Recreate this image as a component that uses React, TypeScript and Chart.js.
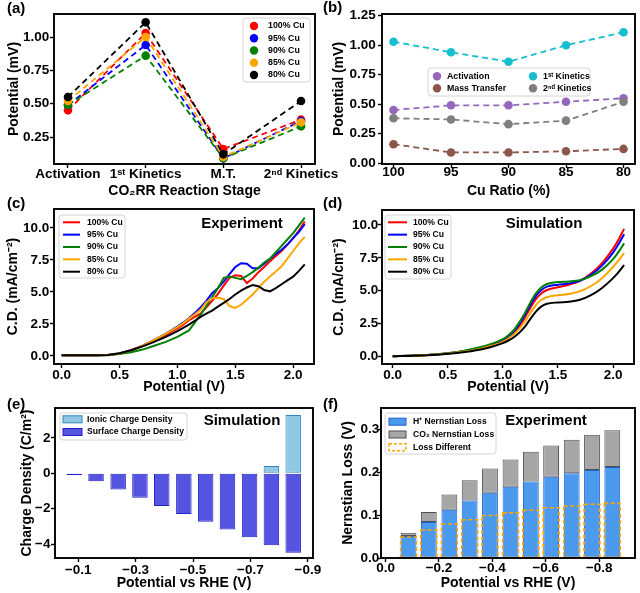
import React, { useEffect, useRef } from 'react';
import { Chart, registerables } from 'chart.js';
Chart.register(...registerables);

const W = 640;
const H = 593;
const FONT = "'Liberation Sans', Arial, Helvetica, sans-serif";
Chart.defaults.font.family = FONT;
Chart.defaults.font.weight = 'bold' as any;
Chart.defaults.color = '#000';

// ---------- (a) / (b) data ----------
const STAGES = ['Activation', '1ˢᵗ Kinetics', 'M.T.', '2ⁿᵈ Kinetics'];
const CU_LABELS = ['100% Cu', '95% Cu', '90% Cu', '85% Cu', '80% Cu'];
const CU_RATIO = [100, 95, 90, 85, 80];
const CU_COLORS = ['#ff0000', '#0000ff', '#008000', '#ffa500', '#000000'];
const ACTIVATION = [0.45, 0.49, 0.49, 0.52, 0.55];
const KINETICS_1 = [1.03, 0.94, 0.86, 1.0, 1.11];
const MASS_TRANSFER = [0.16, 0.09, 0.09, 0.1, 0.12];
const KINETICS_2 = [0.38, 0.37, 0.33, 0.36, 0.52];
const B_LABELS = ['Activation', 'Mass Transfer', '1ˢᵗ Kinetics', '2ⁿᵈ Kinetics'];
const B_COLORS = ['#9467bd', '#8c564b', '#17becf', '#7f7f7f'];
const A_Y_TICKS = [0.25, 0.5, 0.75, 1.0];
const B_Y_TICKS = [0, 0.25, 0.5, 0.75, 1.0, 1.25];

// ---------- (c) experiment ----------
const EXP_V = [0, 0.1, 0.2, 0.3, 0.4, 0.5, 0.6, 0.7, 0.8, 0.9, 1.0, 1.05, 1.1, 1.15, 1.2, 1.25, 1.3, 1.35, 1.4, 1.45, 1.5, 1.55, 1.6, 1.65, 1.7, 1.75, 1.8, 1.85, 1.9, 1.95, 2.0, 2.05, 2.1];
const EXP_100 = [0.05, 0.05, 0.05, 0.05, 0.07, 0.2, 0.45, 0.8, 1.2, 1.65, 2.15, 2.45, 2.8, 3.05, 3.3, 3.8, 4.3, 4.85, 5.5, 6.1, 6.3, 6.25, 5.7, 6.05, 6.55, 6.95, 7.4, 7.8, 8.2, 8.7, 9.2, 9.8, 10.5];
const EXP_95 = [0.05, 0.05, 0.05, 0.05, 0.07, 0.2, 0.45, 0.8, 1.25, 1.75, 2.3, 2.6, 2.95, 3.35, 3.8, 4.3, 4.9, 5.3, 5.8, 6.4, 6.95, 7.25, 7.2, 6.85, 6.85, 7.2, 7.6, 7.95, 8.3, 8.7, 9.2, 9.7, 10.3];
const EXP_90 = [0.05, 0.05, 0.05, 0.05, 0.06, 0.15, 0.3, 0.5, 0.8, 1.1, 1.5, 1.75, 2.0, 2.6, 3.2, 3.9, 4.6, 5.3, 6.1, 6.2, 6.1, 6.0, 6.25, 6.55, 6.9, 7.3, 7.6, 8.1, 8.6, 9.1, 9.6, 10.2, 10.8];
const EXP_85 = [0.05, 0.05, 0.05, 0.05, 0.07, 0.2, 0.45, 0.8, 1.25, 1.75, 2.25, 2.55, 2.9, 3.25, 3.6, 4.2, 4.5, 4.55, 4.45, 3.9, 3.75, 4.0, 4.4, 4.8, 5.3, 5.8, 6.2, 6.6, 7.0, 7.6, 8.2, 8.8, 9.3];
const EXP_80 = [0.05, 0.05, 0.05, 0.05, 0.07, 0.22, 0.45, 0.75, 1.1, 1.5, 1.95, 2.2, 2.45, 2.75, 3.05, 3.3, 3.55, 3.85, 4.15, 4.45, 4.8, 5.1, 5.35, 5.55, 5.45, 5.15, 5.05, 5.3, 5.6, 5.9, 6.2, 6.65, 7.15];

// ---------- (d) simulation ----------
const SIM_V = [0, 0.2, 0.4, 0.6, 0.8, 0.9, 1.0, 1.05, 1.1, 1.15, 1.2, 1.25, 1.3, 1.35, 1.4, 1.5, 1.6, 1.7, 1.8, 1.9, 2.0, 2.05, 2.1];
const SIM_100 = [0, 0.05, 0.14, 0.32, 0.62, 0.85, 1.2, 1.45, 1.8, 2.3, 2.95, 3.7, 4.35, 4.8, 5.05, 5.25, 5.45, 5.75, 6.3, 7.1, 8.2, 8.9, 9.7];
const SIM_95 = [0, 0.05, 0.15, 0.33, 0.65, 0.9, 1.25, 1.5, 1.9, 2.45, 3.15, 3.9, 4.6, 5.05, 5.3, 5.45, 5.55, 5.75, 6.2, 6.9, 7.9, 8.55, 9.3];
const SIM_90 = [0, 0.05, 0.15, 0.35, 0.7, 0.95, 1.3, 1.6, 2.0, 2.6, 3.3, 4.1, 4.8, 5.25, 5.5, 5.65, 5.7, 5.8, 6.1, 6.6, 7.4, 7.95, 8.6];
const SIM_85 = [0, 0.04, 0.13, 0.3, 0.58, 0.8, 1.1, 1.35, 1.65, 2.1, 2.65, 3.3, 3.9, 4.3, 4.5, 4.65, 4.75, 4.95, 5.35, 5.95, 6.8, 7.3, 7.85];
const SIM_80 = [0, 0.04, 0.12, 0.27, 0.52, 0.72, 1.0, 1.2, 1.45, 1.8, 2.25, 2.85, 3.4, 3.8, 4.0, 4.1, 4.15, 4.3, 4.65, 5.2, 5.95, 6.4, 6.95];
const CD_TICKS = [0, 2.5, 5, 7.5, 10];
const V_TICKS = [0, 0.5, 1.0, 1.5, 2.0];

// ---------- (e) charge density ----------
const E_POT = [-0.086, -0.162, -0.239, -0.315, -0.391, -0.468, -0.544, -0.62, -0.697, -0.773, -0.849];
const IONIC = [0, 0, 0, 0, 0, 0, 0, 0, 0.05, 0.41, 3.3];
const SURFACE = [-0.1, -0.45, -0.92, -1.38, -1.85, -2.3, -2.74, -3.18, -3.62, -4.07, -4.5];
const E_X_TICKS = [-0.1, -0.3, -0.5, -0.7, -0.9];
const E_Y_TICKS = [-4, -2, 0, 2];

// ---------- (f) Nernstian loss ----------
const H_LOSS = [0.051, 0.084, 0.112, 0.134, 0.152, 0.166, 0.178, 0.189, 0.197, 0.205, 0.212];
const CO2_LOSS = [0.008, 0.023, 0.036, 0.047, 0.056, 0.063, 0.069, 0.073, 0.078, 0.082, 0.085];
const LOSS_DIFF = [0.049, 0.065, 0.079, 0.089, 0.099, 0.105, 0.111, 0.117, 0.121, 0.125, 0.127];
const F_X_TICKS = [0, -0.2, -0.4, -0.6, -0.8];
const F_Y_TICKS = [0, 0.1, 0.2, 0.3];

// ---------- helpers ----------
const minus = (v: number, d: number) => (v < -1e-9 ? '\u2212' : '') + Math.abs(v).toFixed(d);

type AxisOpt = {
  min: number; max: number; ticks: number[]; fmt: (v: number) => string; reverse?: boolean;
  size: number; title: string; titlePad: number; tickPad: number; horizontal: boolean; stacked?: boolean;
};
function axis(o: AxisOpt): any {
  const a: any = {
    type: 'linear', min: o.min, max: o.max, reverse: !!o.reverse, offset: false,
    afterBuildTicks: (s: any) => { s.ticks = o.ticks.map((v) => ({ value: v })); },
    afterFit: (s: any) => { if (o.horizontal) s.height = o.size; else s.width = o.size; },
    grid: { display: true, offset: false, drawOnChartArea: false, drawTicks: true, tickLength: 4, tickWidth: 1.4, tickColor: '#000', color: '#000' },
    border: { display: false },
    ticks: { autoSkip: false, maxRotation: 0, minRotation: 0, includeBounds: false, padding: o.tickPad, color: '#000', font: { size: 13.5, weight: 'bold' }, callback: (v: any) => o.fmt(Number(v)) },
    title: { display: true, text: o.title, color: '#000', font: { size: 14, weight: 'bold' }, padding: o.horizontal ? { top: 0, bottom: o.titlePad } : { top: o.titlePad, bottom: 0 } },
  };
  if (o.stacked) a.stacked = true;
  return a;
}
type Box = { l: number; t: number; r: number; b: number };
const pad = (bx: Box, yW: number, xH: number) => ({ left: bx.l - yW, top: bx.t, right: W - bx.r, bottom: H - bx.b - xH });

const framePlugin = {
  id: 'frame',
  afterDatasetsDraw(chart: any) {
    const { ctx, chartArea: a } = chart;
    ctx.save();
    ctx.strokeStyle = '#000';
    ctx.lineWidth = 1.9;
    ctx.setLineDash([]);
    ctx.strokeRect(a.left, a.top, a.right - a.left, a.bottom - a.top);
    ctx.restore();
  },
};

const dashBarsPlugin = {
  id: 'dashBars',
  afterDatasetsDraw(chart: any, _a: any, o: any) {
    if (!o || o.datasetIndex === undefined) return;
    const meta = chart.getDatasetMeta(o.datasetIndex);
    const ctx = chart.ctx;
    ctx.save();
    ctx.setLineDash([4, 2.5]);
    ctx.strokeStyle = o.color;
    ctx.lineWidth = 1.6;
    meta.data.forEach((el: any) => {
      const p = el.getProps(['x', 'y', 'base', 'width'], true);
      ctx.strokeRect(p.x - p.width / 2, p.y, p.width, p.base - p.y);
    });
    ctx.restore();
  },
};

const boxLegendPlugin = {
  id: 'boxLegend',
  afterDraw(chart: any, _a: any, o: any) {
    if (!o || !o.items) return;
    const ctx = chart.ctx;
    ctx.save();
    ctx.beginPath();
    if (ctx.roundRect) ctx.roundRect(o.x, o.y, o.w, o.h, 3); else ctx.rect(o.x, o.y, o.w, o.h);
    ctx.fillStyle = 'rgba(255,255,255,0.85)';
    ctx.fill();
    ctx.strokeStyle = '#d4d4d4';
    ctx.lineWidth = 1;
    ctx.stroke();
    ctx.font = `bold ${o.fontSize}px ${FONT}`;
    ctx.textBaseline = 'middle';
    ctx.textAlign = 'left';
    const n = o.items.length;
    for (let i = 0; i < n; i++) {
      const it = o.items[i];
      const col = Math.floor(i / o.rows);
      const row = i % o.rows;
      const cy = o.y0 + row * o.rowH;
      const mx = o.mx + col * (o.colW || 0);
      const tx = o.tx + col * (o.colW || 0);
      ctx.setLineDash([]);
      if (it.kind === 'dot') {
        ctx.beginPath();
        ctx.arc(mx, cy, o.r, 0, Math.PI * 2);
        ctx.fillStyle = it.color;
        ctx.fill();
      } else if (it.kind === 'line') {
        ctx.beginPath();
        ctx.moveTo(mx, cy);
        ctx.lineTo(mx + o.mw, cy);
        ctx.strokeStyle = it.color;
        ctx.lineWidth = 2;
        ctx.stroke();
      } else if (it.kind === 'patch') {
        ctx.fillStyle = it.color;
        ctx.fillRect(mx, cy - o.mh / 2, o.mw, o.mh);
        ctx.strokeStyle = it.border;
        ctx.lineWidth = 1;
        ctx.strokeRect(mx, cy - o.mh / 2, o.mw, o.mh);
      } else if (it.kind === 'dash') {
        ctx.setLineDash([3, 2]);
        ctx.strokeStyle = it.color;
        ctx.lineWidth = 1.5;
        ctx.strokeRect(mx, cy - o.mh / 2, o.mw, o.mh);
        ctx.setLineDash([]);
      }
      ctx.fillStyle = '#000';
      ctx.fillText(it.label, tx, cy);
    }
    ctx.restore();
  },
};

const annotPlugin = {
  id: 'annot',
  afterDraw(chart: any, _a: any, o: any) {
    if (!o || !o.items) return;
    const ctx = chart.ctx;
    ctx.save();
    ctx.fillStyle = '#000';
    ctx.textBaseline = 'middle';
    for (let i = 0; i < o.items.length; i++) {
      const it = o.items[i];
      ctx.font = `bold ${it.size}px ${FONT}`;
      ctx.textAlign = it.align;
      ctx.fillText(it.text, it.x, it.y);
    }
    ctx.restore();
  },
};

const PLUGINS = [dashBarsPlugin, framePlugin, boxLegendPlugin, annotPlugin];

function opts(padding: any, x: any, y: any, plugins: any) {
  return {
    responsive: false, maintainAspectRatio: false, animation: false, devicePixelRatio: 1, events: [],
    layout: { padding },
    plugins: { legend: { display: false }, tooltip: { enabled: false }, ...plugins },
    scales: { x, y },
  };
}

// ---------- panel configs ----------
function configA(): any {
  const box = { l: 54, t: 14, r: 315, b: 164 };
  const stageVals = [ACTIVATION, KINETICS_1, MASS_TRANSFER, KINETICS_2];
  const datasets = CU_LABELS.map((lab, i) => ({
    label: lab,
    data: STAGES.map((_, j) => ({ x: j, y: stageVals[j][i] })),
    borderColor: CU_COLORS[i], backgroundColor: CU_COLORS[i], borderWidth: 1.8, borderDash: [6, 4],
    pointRadius: 4.3, pointBorderWidth: 0, pointBackgroundColor: CU_COLORS[i], tension: 0, order: 4 - i,
  }));
  return {
    type: 'line', data: { datasets }, plugins: PLUGINS,
    options: opts(pad(box, 54, 36),
      axis({ min: -0.18, max: 3.18, ticks: [0, 1, 2, 3], fmt: (v) => STAGES[Math.round(v)], size: 36, title: 'CO₂RR Reaction Stage', titlePad: 0.9, tickPad: -2.1, horizontal: true }),
      axis({ min: 0.0475, max: 1.1725, ticks: A_Y_TICKS, fmt: (v) => v.toFixed(2), size: 54, title: 'Potential (mV)', titlePad: 5.6, tickPad: 0.7, horizontal: false }),
      {
        boxLegend: { x: 243, y: 18, w: 67, h: 64, rows: 5, y0: 26, rowH: 12.25, mx: 254, tx: 268, r: 4.2, fontSize: 8.8, items: CU_LABELS.map((l, i) => ({ label: l, kind: 'dot', color: CU_COLORS[i] })) },
        annot: { items: [{ text: '(a)', x: 7, y: 9, size: 15, align: 'left' }] },
      }),
  };
}

function configB(): any {
  const box = { l: 382, t: 14, r: 635, b: 164 };
  const series = [ACTIVATION, MASS_TRANSFER, KINETICS_1, KINETICS_2];
  const datasets = series.map((s, i) => ({
    label: B_LABELS[i],
    data: CU_RATIO.map((c, j) => ({ x: c, y: s[j] })),
    borderColor: B_COLORS[i], backgroundColor: B_COLORS[i], borderWidth: 1.8, borderDash: [6, 4],
    pointRadius: 4.3, pointBorderWidth: 0, pointBackgroundColor: B_COLORS[i], tension: 0, order: 4 - i,
  }));
  return {
    type: 'line', data: { datasets }, plugins: PLUGINS,
    options: opts(pad(box, 60, 36),
      axis({ min: 79, max: 101, reverse: true, ticks: CU_RATIO, fmt: (v) => String(Math.round(v)), size: 36, title: 'Cu Ratio (%)', titlePad: 0.9, tickPad: -3.4, horizontal: true }),
      axis({ min: -0.008, max: 1.265, ticks: B_Y_TICKS, fmt: (v) => v.toFixed(2), size: 60, title: 'Potential (mV)', titlePad: 8.6, tickPad: 2.3, horizontal: false }),
      {
        boxLegend: { x: 428, y: 68, w: 162, h: 28, rows: 2, colW: 96, y0: 76.3, rowH: 12, mx: 437, tx: 447, r: 4.2, fontSize: 8.8, items: B_LABELS.map((l, i) => ({ label: l, kind: 'dot', color: B_COLORS[i] })) },
        annot: { items: [{ text: '(b)', x: 323, y: 8, size: 15, align: 'left' }] },
      }),
  };
}

function configCD(sim: boolean): any {
  const box = sim ? { l: 382, t: 210, r: 634, b: 364 } : { l: 54, t: 209, r: 314, b: 364 };
  const xs = sim ? SIM_V : EXP_V;
  const ys = sim ? [SIM_100, SIM_95, SIM_90, SIM_85, SIM_80] : [EXP_100, EXP_95, EXP_90, EXP_85, EXP_80];
  const datasets = ys.map((s, i) => ({
    label: CU_LABELS[i],
    data: xs.map((v, j) => ({ x: v, y: s[j] })),
    borderColor: CU_COLORS[i], backgroundColor: CU_COLORS[i], borderWidth: 2,
    pointRadius: 0, tension: 0, cubicInterpolationMode: sim ? 'monotone' : 'default', order: 4 - i,
  }));
  const yW = sim ? 60 : 54;
  return {
    type: 'line', data: { datasets }, plugins: PLUGINS,
    options: opts(pad(box, yW, 36),
      sim
        ? axis({ min: -0.097, max: 2.19, ticks: V_TICKS, fmt: (v) => v.toFixed(1), size: 36, title: 'Potential (V)', titlePad: 4.3, tickPad: -1.2, horizontal: true })
        : axis({ min: -0.066, max: 2.18, ticks: V_TICKS, fmt: (v) => v.toFixed(1), size: 36, title: 'Potential (V)', titlePad: 4.9, tickPad: -1.2, horizontal: true }),
      sim
        ? axis({ min: -0.59, max: 11.14, ticks: CD_TICKS, fmt: (v) => v.toFixed(1), size: 60, title: 'C.D. (mA/cm⁻²)', titlePad: 8.9, tickPad: -0.3, horizontal: false })
        : axis({ min: -0.625, max: 11.48, ticks: CD_TICKS, fmt: (v) => v.toFixed(1), size: 54, title: 'C.D. (mA/cm⁻²)', titlePad: 4.6, tickPad: 0.7, horizontal: false }),
      {
        boxLegend: sim
          ? { x: 385, y: 215, w: 66, h: 64, rows: 5, y0: 222.3, rowH: 12.35, mx: 388, mw: 19, tx: 413, fontSize: 8.6, items: CU_LABELS.map((l, i) => ({ label: l, kind: 'line', color: CU_COLORS[i] })) }
          : { x: 59, y: 215, w: 66, h: 63, rows: 5, y0: 222.3, rowH: 12.35, mx: 63, mw: 17, tx: 87, fontSize: 8.6, items: CU_LABELS.map((l, i) => ({ label: l, kind: 'line', color: CU_COLORS[i] })) },
        annot: {
          items: sim
            ? [{ text: '(d)', x: 323, y: 203.7, size: 15, align: 'left' }, { text: 'Simulation', x: 544, y: 224, size: 15, align: 'center' }]
            : [{ text: '(c)', x: 7, y: 204, size: 15, align: 'left' }, { text: 'Experiment', x: 242, y: 224, size: 15, align: 'center' }],
        },
      }),
  };
}

function configE(): any {
  const box = { l: 55, t: 408, r: 313, b: 558 };
  const datasets = [
    { label: 'Ionic Charge Density', data: E_POT.map((e, i) => ({ x: e, y: IONIC[i] })), backgroundColor: '#8fc8e3', borderColor: '#2f86bd', borderWidth: 1, borderSkipped: false, grouped: false, categoryPercentage: 1, barPercentage: 0.71 },
    { label: 'Surface Charge Density', data: E_POT.map((e, i) => ({ x: e, y: SURFACE[i] })), backgroundColor: '#5454e0', borderColor: '#2222c4', borderWidth: 1, borderSkipped: false, grouped: false, categoryPercentage: 1, barPercentage: 0.71 },
  ];
  return {
    type: 'bar', data: { datasets }, plugins: PLUGINS,
    options: opts(pad(box, 55, 35),
      axis({ min: -0.918, max: -0.019, reverse: true, ticks: E_X_TICKS, fmt: (v) => minus(v, 1), size: 35, title: 'Potential vs RHE (V)', titlePad: 1.3, tickPad: -0.1, horizontal: true }),
      axis({ min: -4.79, max: 3.69, ticks: E_Y_TICKS, fmt: (v) => minus(v, 0), size: 55, title: 'Charge Density (C/m²)', titlePad: 18.3, tickPad: 0.5, horizontal: false }),
      {
        boxLegend: { x: 60, y: 413, w: 127, h: 27, rows: 2, y0: 419.3, rowH: 12.7, mx: 63, mw: 19, mh: 7, tx: 87, fontSize: 8.6, items: [
          { label: 'Ionic Charge Density', kind: 'patch', color: '#8fc8e3', border: '#2f86bd' },
          { label: 'Surface Charge Density', kind: 'patch', color: '#5454e0', border: '#2222c4' },
        ] },
        annot: { items: [{ text: '(e)', x: 7, y: 405, size: 15, align: 'left' }, { text: 'Simulation', x: 242, y: 421, size: 15, align: 'center' }] },
      }),
  };
}

function configF(): any {
  const box = { l: 381, t: 408, r: 635, b: 558 };
  const common = { borderSkipped: false, grouped: false, categoryPercentage: 1, barPercentage: 0.78 };
  const datasets = [
    { label: 'H⁺ Nernstian Loss', stack: 'loss', data: E_POT.map((e, i) => ({ x: e, y: H_LOSS[i] })), backgroundColor: '#4c9aee', borderColor: '#1f5fcc', borderWidth: 1, ...common },
    { label: 'CO₂ Nernstian Loss', stack: 'loss', data: E_POT.map((e, i) => ({ x: e, y: CO2_LOSS[i] })), backgroundColor: '#a6a6a6', borderColor: '#505050', borderWidth: 1, ...common },
    { label: 'Loss Different', stack: 'diff', data: E_POT.map((e, i) => ({ x: e, y: LOSS_DIFF[i] })), backgroundColor: 'rgba(0,0,0,0)', borderWidth: 0, ...common },
  ];
  return {
    type: 'bar', data: { datasets }, plugins: PLUGINS,
    options: opts(pad(box, 59, 35),
      axis({ min: -0.934, max: 0.017, reverse: true, ticks: F_X_TICKS, fmt: (v) => minus(v, 1), size: 35, title: 'Potential vs RHE (V)', titlePad: 1.9, tickPad: -1.8, horizontal: true, stacked: true }),
      axis({ min: 0, max: 0.349, ticks: F_Y_TICKS, fmt: (v) => v.toFixed(1), size: 59, title: 'Nernstian Loss (V)', titlePad: 17.9, tickPad: -2.3, horizontal: false, stacked: true }),
      {
        dashBars: { datasetIndex: 2, color: '#ffa500' },
        boxLegend: { x: 385, y: 413, w: 111, h: 41, rows: 3, y0: 421.7, rowH: 12.8, mx: 389, mw: 17, mh: 7, tx: 413, fontSize: 8.6, items: [
          { label: 'H⁺ Nernstian Loss', kind: 'patch', color: '#4c9aee', border: '#1f5fcc' },
          { label: 'CO₂ Nernstian Loss', kind: 'patch', color: '#a6a6a6', border: '#505050' },
          { label: 'Loss Different', kind: 'dash', color: '#ffa500' },
        ] },
        annot: { items: [{ text: '(f)', x: 323, y: 405, size: 15, align: 'left' }, { text: 'Experiment', x: 546, y: 421, size: 15, align: 'center' }] },
      }),
  };
}

function ChartCanvas({ make }: { make: () => any }) {
  const ref = useRef<HTMLCanvasElement>(null);
  useEffect(() => {
    const c = new Chart(ref.current as HTMLCanvasElement, make());
    return () => c.destroy();
  }, []);
  return <canvas ref={ref} width={W} height={H} style={{ position: 'absolute', left: 0, top: 0, width: W, height: H }} />;
}

export default function App() {
  return (
    <div style={{ position: 'absolute', left: 0, top: 0, width: W, height: H, background: '#fff', overflow: 'hidden' }}>
      <ChartCanvas make={configA} />
      <ChartCanvas make={configB} />
      <ChartCanvas make={() => configCD(false)} />
      <ChartCanvas make={() => configCD(true)} />
      <ChartCanvas make={configE} />
      <ChartCanvas make={configF} />
    </div>
  );
}
